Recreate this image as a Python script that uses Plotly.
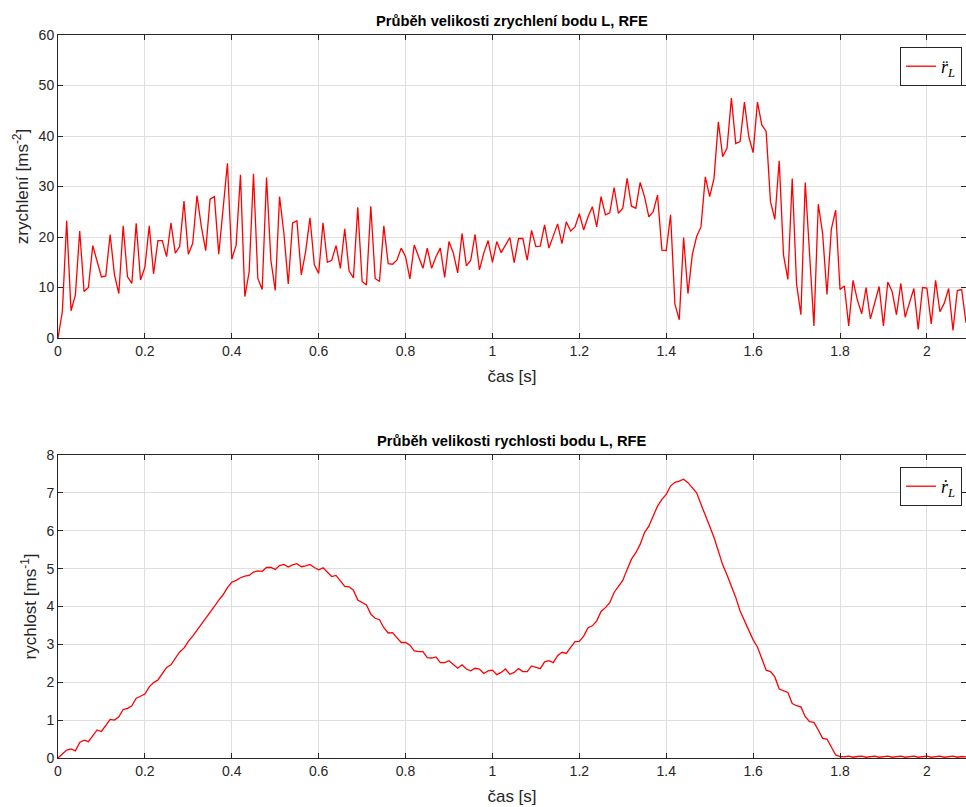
import plotly.graph_objects as go

# time step 0.01 s, 0 .. 2.09 s
t = [round(i * 0.01, 2) for i in range(210)]

accel = [
    0, 5.2, 23.2, 5.4, 8.5, 21.2, 9.2, 10.0, 18.3, 15.1,
    12.1, 12.3, 20.5, 12.5, 8.8, 22.2, 12.1, 10.8, 22.7, 11.5,
    14.0, 22.2, 12.7, 19.3, 19.3, 16.1, 22.8, 16.8, 18.1, 27.1,
    16.6, 18.7, 28.2, 22.0, 17.3, 27.5, 28.0, 16.6, 25.5, 34.6,
    15.6, 18.4, 32.3, 8.2, 13.1, 32.5, 11.8, 9.6, 31.8, 15.4,
    9.4, 28.0, 20.7, 10.7, 22.8, 23.2, 12.5, 17.1, 23.8, 14.5,
    12.8, 22.8, 15.0, 15.4, 18.3, 13.8, 21.6, 13.3, 11.9, 25.9,
    11.2, 10.5, 26.1, 11.8, 11.2, 22.2, 14.7, 14.6, 15.4, 17.8,
    16.1, 11.7, 18.4, 16.1, 13.8, 17.8, 13.8, 16.1, 17.8, 12.0,
    19.1, 16.8, 12.9, 20.7, 14.3, 15.4, 20.5, 13.5, 16.8, 19.3,
    15.0, 19.1, 16.9, 18.4, 19.9, 14.9, 19.7, 19.7, 15.4, 21.3,
    18.1, 18.2, 22.4, 17.8, 20.4, 22.6, 18.7, 23.0, 21.2, 22.0,
    24.6, 21.4, 24.0, 26.0, 22.0, 28.0, 24.4, 24.8, 29.8, 24.7,
    25.7, 31.6, 26.1, 25.7, 30.8, 28.0, 24.0, 25.0, 28.3, 17.4,
    17.3, 24.4, 6.7, 3.6, 19.9, 8.8, 16.5, 20.1, 22.0, 31.9,
    28.0, 31.6, 42.8, 35.9, 37.6, 47.5, 38.5, 38.9, 46.7, 39.9,
    36.7, 46.7, 42.2, 40.9, 27.0, 23.5, 35.1, 16.4, 11.6, 31.6,
    10.7, 4.6, 30.8, 16.8, 2.4, 26.5, 20.7, 8.6, 21.5, 25.3,
    9.6, 10.3, 2.4, 11.4, 7.5, 4.8, 10.0, 3.8, 7.0, 10.2,
    2.4, 11.1, 9.2, 4.6, 10.8, 4.1, 7.0, 9.8, 1.7, 10.0,
    9.9, 2.8, 11.4, 5.2, 6.9, 9.8, 1.5, 9.4, 9.6, 3.0,
]

speed = [
    0, 0.11, 0.21, 0.24, 0.19, 0.41, 0.47, 0.43, 0.59, 0.74,
    0.70, 0.85, 1.02, 1.00, 1.09, 1.28, 1.31, 1.38, 1.58, 1.63,
    1.69, 1.88, 1.99, 2.06, 2.24, 2.39, 2.46, 2.64, 2.80, 2.90,
    3.08, 3.22, 3.37, 3.55, 3.68, 3.84, 4.00, 4.17, 4.31, 4.50,
    4.64, 4.69, 4.76, 4.80, 4.82, 4.91, 4.94, 4.93, 5.03, 5.03,
    4.98, 5.08, 5.11, 5.04, 5.10, 5.13, 5.05, 5.07, 5.11, 5.03,
    4.97, 5.02, 4.91, 4.79, 4.82, 4.69, 4.53, 4.52, 4.43, 4.17,
    4.10, 4.04, 3.80, 3.69, 3.65, 3.44, 3.30, 3.31, 3.18, 3.05,
    3.05, 2.98, 2.83, 2.81, 2.81, 2.65, 2.64, 2.67, 2.52, 2.52,
    2.57, 2.46, 2.37, 2.46, 2.35, 2.30, 2.37, 2.35, 2.23, 2.30,
    2.32, 2.20, 2.26, 2.35, 2.21, 2.26, 2.36, 2.28, 2.28, 2.43,
    2.39, 2.36, 2.54, 2.57, 2.52, 2.70, 2.79, 2.76, 2.92, 3.07,
    3.08, 3.22, 3.44, 3.49, 3.62, 3.87, 3.97, 4.10, 4.37, 4.54,
    4.69, 4.98, 5.25, 5.42, 5.64, 5.95, 6.12, 6.39, 6.65, 6.83,
    6.96, 7.18, 7.28, 7.31, 7.36, 7.27, 7.14, 7.00, 6.70, 6.43,
    6.12, 5.82, 5.47, 5.10, 4.83, 4.54, 4.24, 3.88, 3.62, 3.40,
    3.12, 2.93, 2.64, 2.32, 2.28, 2.14, 1.82, 1.78, 1.73, 1.44,
    1.38, 1.35, 1.09, 0.96, 0.94, 0.74, 0.52, 0.50, 0.30, 0.08,
    0.04, 0.03, 0.05, 0.02, 0.04, 0.05, 0.02, 0.03, 0.05, 0.02,
    0.04, 0.05, 0.02, 0.03, 0.05, 0.02, 0.04, 0.05, 0.02, 0.03,
    0.05, 0.02, 0.04, 0.05, 0.02, 0.03, 0.05, 0.02, 0.04, 0.03,
]

x_tickvals = [0, 0.2, 0.4, 0.6, 0.8, 1, 1.2, 1.4, 1.6, 1.8, 2]
x_ticktext = ["0", "0.2", "0.4", "0.6", "0.8", "1", "1.2", "1.4", "1.6", "1.8", "2"]
acc_ticks = [0, 10, 20, 30, 40, 50, 60]
spd_ticks = [0, 1, 2, 3, 4, 5, 6, 7, 8]

title_top = "Průběh velikosti zrychlení bodu L, RFE"
title_bot = "Průběh velikosti rychlosti bodu L, RFE"
xlabel = "čas [s]"
ylabel_top = "zrychlení [ms<sup>-2</sup>]"
ylabel_bot = "rychlost [ms<sup>-1</sup>]"
leg_top = "<i>r\u0308</i><sub><i>L</i></sub>"
leg_bot = "<i>\u1e59</i><sub><i>L</i></sub>"

AX = "#262626"
GRID = "#dfdfdf"
FONT = "Liberation Sans, Arial, sans-serif"

fig = go.Figure()
fig.add_trace(go.Scatter(x=t, y=accel, mode="lines", name=leg_top,
                         line=dict(color="#ff0000", width=1.3),
                         xaxis="x", yaxis="y", legend="legend"))
fig.add_trace(go.Scatter(x=t, y=speed, mode="lines", name=leg_bot,
                         line=dict(color="#ff0000", width=1.3),
                         xaxis="x2", yaxis="y2", legend="legend2"))

axis_common = dict(showline=True, linecolor=AX, linewidth=1, mirror="ticks",
                   ticks="inside", ticklen=5, tickcolor=AX,
                   showgrid=True, gridcolor=GRID, gridwidth=1, zeroline=False,
                   tickfont=dict(family=FONT, size=14, color=AX))

xcommon = dict(axis_common, range=[0, 2.09], tickvals=x_tickvals, ticktext=x_ticktext,
               title=dict(text=xlabel, font=dict(family=FONT, size=17, color=AX), standoff=12))

legend_common = dict(xanchor="right", yanchor="top",
                     bgcolor="white", bordercolor=AX, borderwidth=1,
                     font=dict(family="Liberation Serif, serif", size=18, color="#000000"),
                     tracegroupgap=0, itemwidth=30)

fig.update_layout(
    width=966, height=807,
    margin=dict(l=58, r=0, t=35, b=49),
    paper_bgcolor="white", plot_bgcolor="white",
    showlegend=True,
    xaxis=dict(xcommon, domain=[0, 1], anchor="y"),
    yaxis=dict(axis_common, domain=[420 / 723, 1], anchor="x", range=[0, 60], tickvals=acc_ticks,
               title=dict(text=ylabel_top, font=dict(family=FONT, size=17, color=AX), standoff=5)),
    xaxis2=dict(xcommon, domain=[0, 1], anchor="y2"),
    yaxis2=dict(axis_common, domain=[0, 303 / 723], anchor="x2", range=[0, 8], tickvals=spd_ticks,
                title=dict(text=ylabel_bot, font=dict(family=FONT, size=17, color=AX), standoff=5)),
    legend=dict(legend_common, x=0.9956, y=(758 - 47) / 723),
    legend2=dict(legend_common, x=0.9956, y=(758 - 467) / 723),
)
fig.add_annotation(text="<b>" + title_top + "</b>", x=0.5, xref="paper",
                   y=(758 - 21) / 723, yref="paper", yanchor="middle", showarrow=False,
                   font=dict(family=FONT, size=14.7, color="#000000"))
fig.add_annotation(text="<b>" + title_bot + "</b>", x=0.5, xref="paper",
                   y=(758 - 441) / 723, yref="paper", yanchor="middle", showarrow=False,
                   font=dict(family=FONT, size=14.7, color="#000000"))

fig.write_html("out.html")
